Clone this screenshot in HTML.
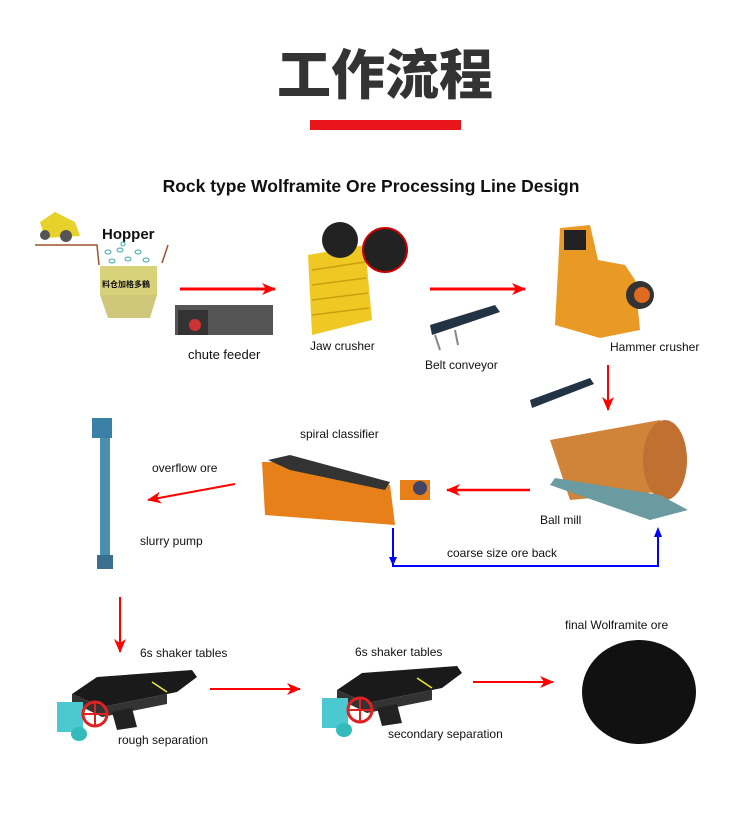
<!DOCTYPE html>
<html><head><meta charset="utf-8"><style>
html,body{margin:0;padding:0;background:#fff;}
svg{display:block}
text{font-family:"Liberation Sans",Arial,sans-serif;fill:#111}
</style></head><body>
<svg width="750" height="813" viewBox="0 0 750 813" xmlns="http://www.w3.org/2000/svg">
<defs>
<marker id="ar" markerWidth="14" markerHeight="12" refX="13" refY="6" orient="auto" markerUnits="userSpaceOnUse"><path d="M0,0 L14,6 L0,12 L4,6Z" fill="#f00"/></marker>
<g id="shaker">
<path d="M15,42 L40,25 L135,18 L140,25 L120,40 L45,55 Z" fill="#1a1a1a"/>
<path d="M15,42 L45,55 L110,42 L110,52 L45,65 L15,50Z" fill="#333"/>
<line x1="95" y1="30" x2="110" y2="40" stroke="#ee3" stroke-width="1.5"/>
<path d="M55,60 L75,56 L80,75 L60,78Z" fill="#222"/>
<rect x="0" y="50" width="26" height="30" fill="#4cc8d0"/>
<circle cx="38" cy="62" r="12" fill="none" stroke="#d22" stroke-width="3"/>
<line x1="26" y1="62" x2="50" y2="62" stroke="#d22" stroke-width="2"/><line x1="38" y1="50" x2="38" y2="74" stroke="#d22" stroke-width="2"/>
<ellipse cx="22" cy="82" rx="8" ry="7" fill="#3bb"/>
</g>
</defs>
<text x="385" y="94" text-anchor="middle" style="font-family:'Noto Sans CJK SC',sans-serif;font-weight:900;font-size:54px;fill:#333">工作流程</text>
<rect x="310" y="120" width="151" height="10" fill="#e8161a"/>
<text x="371" y="192" text-anchor="middle" font-size="17.5" font-weight="bold">Rock type Wolframite Ore Processing Line Design</text>

<!-- hopper -->
<path d="M40,222 L55,212 L75,222 L80,236 L45,238Z" fill="#e6d22a"/>
<circle cx="45" cy="235" r="5" fill="#555"/><circle cx="66" cy="236" r="6" fill="#555"/>
<text x="102" y="239" font-size="15" font-weight="bold">Hopper</text>
<polyline points="35,245 97,245 99,265" fill="none" stroke="#a0522d" stroke-width="1.5"/>
<line x1="162" y1="263" x2="168" y2="245" stroke="#a0522d" stroke-width="1.5"/>
<g fill="none" stroke="#4aa" stroke-width="1"><ellipse cx="108" cy="252" rx="3" ry="2"/><ellipse cx="120" cy="250" rx="3" ry="2"/><ellipse cx="138" cy="252" rx="3" ry="2"/><ellipse cx="112" cy="261" rx="3" ry="2"/><ellipse cx="128" cy="259" rx="3" ry="2"/><ellipse cx="146" cy="260" rx="3" ry="2"/><ellipse cx="123" cy="244" rx="2" ry="2"/></g>
<path d="M100,266 L157,266 L157,295 L100,295Z" fill="#d8d27a"/>
<text x="102" y="287" font-size="8" style="font-family:'Noto Sans CJK SC',sans-serif;font-weight:bold">料仓加格多鶴</text>
<path d="M100,295 L157,295 L150,318 L108,318Z" fill="#cfc77a"/>
<!-- chute feeder -->
<rect x="175" y="305" width="98" height="30" fill="#555"/><rect x="178" y="310" width="30" height="25" fill="#333"/><circle cx="195" cy="325" r="6" fill="#c33"/>
<text x="188" y="359" font-size="13">chute feeder</text>
<line x1="180" y1="289" x2="275" y2="289" stroke="#f00" stroke-width="3" marker-end="url(#ar)"/>
<!-- jaw -->
<path d="M308,255 L365,245 L372,320 L312,335Z" fill="#f0c824"/>
<g stroke="#c9a010" stroke-width="1.5"><line x1="312" y1="270" x2="365" y2="262"/><line x1="312" y1="285" x2="366" y2="278"/><line x1="312" y1="300" x2="368" y2="293"/><line x1="312" y1="315" x2="369" y2="308"/></g>
<circle cx="340" cy="240" r="18" fill="#222"/><circle cx="385" cy="250" r="22" fill="#222" stroke="#c00" stroke-width="2"/>
<text x="310" y="350" font-size="12">Jaw crusher</text>
<line x1="430" y1="289" x2="525" y2="289" stroke="#f00" stroke-width="3" marker-end="url(#ar)"/>
<!-- belt conveyor -->
<path d="M430,325 L495,305 L500,312 L432,335Z" fill="#234"/>
<line x1="435" y1="335" x2="440" y2="350" stroke="#888" stroke-width="2"/><line x1="455" y1="330" x2="458" y2="345" stroke="#888" stroke-width="2"/>
<text x="425" y="369" font-size="12">Belt conveyor</text>
<!-- hammer -->
<path d="M560,228 L590,225 L598,260 L625,265 L635,280 L640,330 L600,338 L555,325 L558,270Z" fill="#e89a25"/>
<rect x="564" y="230" width="22" height="20" fill="#222"/>
<circle cx="640" cy="295" r="14" fill="#333"/><circle cx="642" cy="295" r="8" fill="#e06a20"/>
<text x="610" y="351" font-size="12">Hammer crusher</text>
<line x1="608" y1="365" x2="608" y2="410" stroke="#f00" stroke-width="2" marker-end="url(#ar)"/>
<path d="M530,400 L590,378 L594,384 L532,408Z" fill="#234"/>
<!-- ball mill -->
<path d="M550,440 L660,420 L680,490 L570,500Z" fill="#d0843a"/>
<ellipse cx="665" cy="460" rx="22" ry="40" fill="#c07030"/>
<path d="M550,485 L650,520 L688,510 L660,495 L555,478Z" fill="#6a9ba0"/>
<text x="540" y="524" font-size="12">Ball mill</text>
<line x1="530" y1="490" x2="447" y2="490" stroke="#f00" stroke-width="2.5" marker-end="url(#ar)"/>
<!-- spiral -->
<path d="M262,462 L290,462 L390,485 L395,525 L265,515Z" fill="#e8801a"/>
<path d="M268,460 L290,470 L385,490 L390,482 L290,455Z" fill="#333"/>
<rect x="400" y="480" width="30" height="20" fill="#e8801a"/><circle cx="420" cy="488" r="7" fill="#446"/>
<text x="300" y="438" font-size="12">spiral classifier</text>
<line x1="235" y1="484" x2="148" y2="500" stroke="#f00" stroke-width="2" marker-end="url(#ar)"/>
<text x="152" y="472" font-size="12">overflow ore</text>
<!-- pump -->
<rect x="92" y="418" width="20" height="20" fill="#3a7fa5"/>
<rect x="100" y="438" width="10" height="125" fill="#4a8fb0"/>
<rect x="97" y="555" width="16" height="14" fill="#3a6f90"/>
<text x="140" y="545" font-size="12">slurry pump</text>
<!-- blue -->
<polyline points="393,528 393,566 658,566 658,530" fill="none" stroke="#00f" stroke-width="2"/>
<path d="M389,557 L393,566 L397,557Z" fill="#00f"/>
<path d="M654,537 L658,527 L662,537Z" fill="#00f"/>
<text x="447" y="557" font-size="12">coarse size ore back</text>
<line x1="120" y1="597" x2="120" y2="652" stroke="#f00" stroke-width="2" marker-end="url(#ar)"/>
<!-- shakers -->
<use href="#shaker" transform="translate(57,652)"/>
<use href="#shaker" transform="translate(322,648)"/>
<text x="140" y="657" font-size="12">6s shaker tables</text>
<text x="118" y="744" font-size="12">rough separation</text>
<line x1="210" y1="689" x2="300" y2="689" stroke="#f00" stroke-width="2" marker-end="url(#ar)"/>
<text x="355" y="656" font-size="12">6s shaker tables</text>
<text x="388" y="738" font-size="12">secondary separation</text>
<line x1="473" y1="682" x2="553" y2="682" stroke="#f00" stroke-width="2" marker-end="url(#ar)"/>
<text x="565" y="629" font-size="12">final Wolframite ore</text>
<ellipse cx="639" cy="692" rx="57" ry="52" fill="#111"/>
</svg>
</body></html>
